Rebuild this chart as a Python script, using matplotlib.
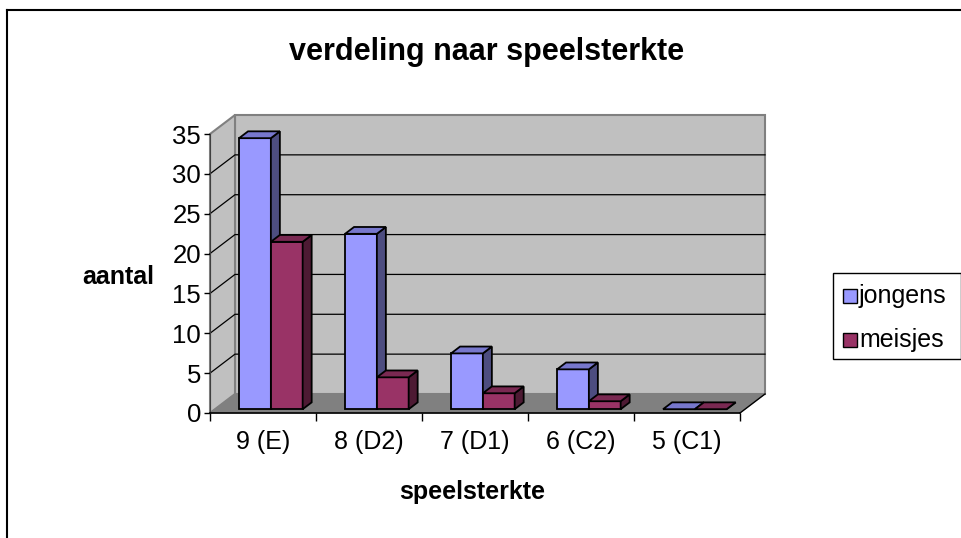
import matplotlib
matplotlib.use('Agg')
import matplotlib.pyplot as plt
from matplotlib.lines import Line2D
from matplotlib.patches import Polygon, Rectangle

plt.rcParams['font.family'] = ['Liberation Sans', 'DejaVu Sans']

categories = ['9 (E)', '8 (D2)', '7 (D1)', '6 (C2)', '5 (C1)']
jongens = [34, 22, 7, 5, 0]
meisjes = [21, 4, 2, 1, 0]
series_names = ['jongens', 'meisjes']
y_ticks = [0, 5, 10, 15, 20, 25, 30, 35]

FRONT = ['#9999FF', '#993366']
TOP = ['#7777CC', '#7A2952']
SIDE = ['#4D4D80', '#4D1A33']

W, H = 961, 538
DX = 25 / 106          # depth shift, category units
DY = 19 * 35 / 279     # depth shift, value units
Z0, Z1 = 0.2, 0.56     # bar depth range
BAR_L, BAR_W = 0.227, 0.30


def proj(x, y, z):
  return (x + z * DX, y + z * DY)


def poly(ax, pts, fc, ec='black', lw=1.0, zorder=2):
  p = Polygon([proj(*q) for q in pts], closed=True, facecolor=fc,
              edgecolor=ec, linewidth=lw, clip_on=False, zorder=zorder,
              joinstyle='miter')
  ax.add_patch(p)


def fx(x):
  return x / W


def fy(y):
  return 1 - y / H


def main():
  fig = plt.figure(figsize=(W / 100, H / 100), dpi=100)
  ax = fig.add_axes([fx(210), fy(413), 530 / W, 279 / H])
  n = len(categories)
  ymax = y_ticks[-1]
  ax.set_xlim(0, n)
  ax.set_ylim(0, ymax)
  ax.patch.set_visible(False)

  # walls and floor
  poly(ax, [(0, 0, 1), (n, 0, 1), (n, ymax, 1), (0, ymax, 1)], '#C0C0C0',
       ec='#808080', lw=1.5, zorder=0)
  poly(ax, [(0, 0, 0), (0, 0, 1), (0, ymax, 1), (0, ymax, 0)], '#C0C0C0',
       ec='#808080', lw=1.5, zorder=0)
  poly(ax, [(0, 0, 0), (n, 0, 0), (n, 0, 1), (0, 0, 1)], '#808080',
       ec='#808080', lw=0.5, zorder=0.5)
  a, b = proj(n, 0, 0), proj(n, 0, 1)
  ax.plot([a[0], b[0]], [a[1], b[1]], color='black', lw=1, clip_on=False,
          zorder=0.6)

  # gridlines
  for v in y_ticks[1:-1]:
    pts = [proj(0, v, 0), proj(0, v, 1), proj(n, v, 1)]
    ax.plot([p[0] for p in pts], [p[1] for p in pts], color='black', lw=0.9,
            clip_on=False, zorder=1)

  # bars
  for i in range(n):
    for s, vals in enumerate([jongens, meisjes]):
      x0 = i + BAR_L + s * BAR_W
      x1 = x0 + BAR_W
      v = vals[i]
      poly(ax, [(x0, 0, Z0), (x1, 0, Z0), (x1, v, Z0), (x0, v, Z0)], FRONT[s],
           lw=1.3)
      poly(ax, [(x1, 0, Z0), (x1, 0, Z1), (x1, v, Z1), (x1, v, Z0)], SIDE[s],
           lw=1.3)
      poly(ax, [(x0, v, Z0), (x1, v, Z0), (x1, v, Z1), (x0, v, Z1)], TOP[s],
           lw=1.3)

  # axes
  for side in ['top', 'right']:
    ax.spines[side].set_visible(False)
  ax.spines['left'].set_color('#404040')
  ax.spines['bottom'].set_color('black')
  ax.spines['bottom'].set_linewidth(1.2)
  ax.set_yticks(y_ticks)
  ax.tick_params(axis='y', length=4.5, width=1, direction='out',
                 labelsize=18.5, pad=2)
  ax.set_xticks(range(n + 1))
  ax.set_xticklabels([])
  ax.set_xticks([i + 0.5 for i in range(n)], minor=True)
  ax.set_xticklabels(categories, minor=True)
  ax.tick_params(axis='x', which='major', length=6, width=1, direction='out')
  ax.tick_params(axis='x', which='minor', length=0, labelsize=18, pad=12)

  # texts
  fig.text(fx(487), fy(52), 'verdeling naar speelsterkte', ha='center',
           va='center', fontsize=22, fontweight='bold')
  fig.text(fx(118), fy(277), 'aantal', ha='center', va='center',
           fontsize=18, fontweight='bold')
  fig.text(fx(472), fy(492), 'speelsterkte', ha='center', va='center',
           fontsize=18, fontweight='bold')

  # legend
  fig.add_artist(Rectangle((fx(833), fy(359)), 128 / W, 86 / H,
                           transform=fig.transFigure, fill=False,
                           edgecolor='black', lw=1))
  for k, (name, yc) in enumerate(zip(series_names, [296, 340])):
    fig.add_artist(Rectangle((fx(843), fy(yc + 7)), 14 / W, 14 / H,
                             transform=fig.transFigure, facecolor=FRONT[k],
                             edgecolor='black', lw=1))
    fig.text(fx(859), fy(yc), name, ha='left', va='center', fontsize=18)

  # chart border
  fig.add_artist(Line2D([fx(7), fx(7)], [fy(10), 0], color='black', lw=1.5,
                        transform=fig.transFigure))
  fig.add_artist(Line2D([fx(7), 1], [fy(10), fy(10)], color='black', lw=1.5,
                        transform=fig.transFigure))

  fig.savefig('out.png', dpi=100)


if __name__ == '__main__':
  main()
